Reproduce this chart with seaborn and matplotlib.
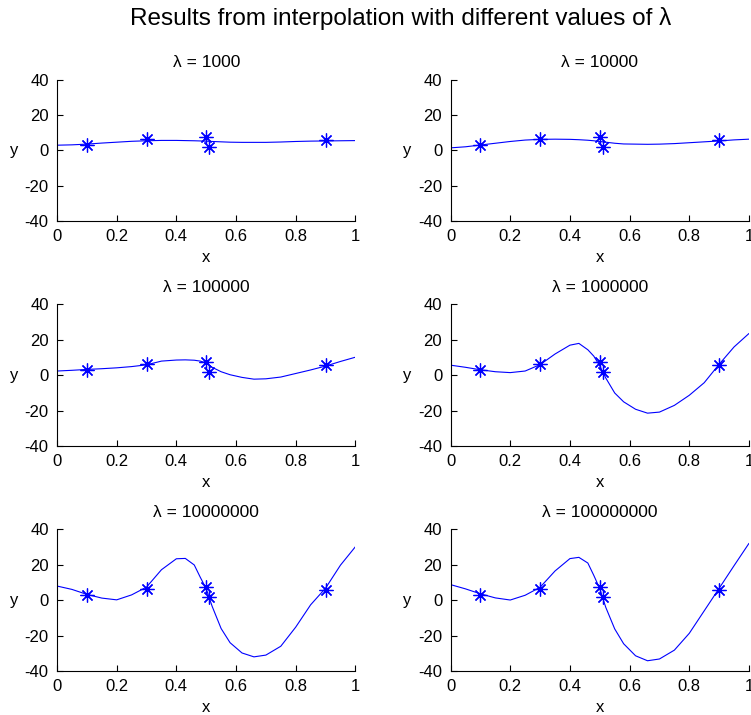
"""Smoothing-spline interpolation results for six values of lambda, redrawn
as a 3x2 grid of MATLAB-style panels."""

import matplotlib

matplotlib.use("Agg")
import matplotlib.pyplot as plt
import seaborn as sns

# Panel titles, in reading order (row by row).
LAMBDAS = ["1000", "10000", "100000", "1000000", "10000000", "100000000"]

CURVE_X = [0.0, 0.05, 0.1, 0.15, 0.2, 0.25, 0.3, 0.35, 0.4, 0.43, 0.46, 0.48,
           0.5, 0.52, 0.55, 0.58, 0.62, 0.66, 0.7, 0.75, 0.8, 0.85, 0.9, 0.95, 1.0]

CURVE_1E3 = [2.9, 3.1, 3.5, 4.1, 4.6, 5.1, 5.4, 5.6, 5.6, 5.5, 5.4, 5.3,
             5.2, 5.0, 4.8, 4.6, 4.5, 4.5, 4.5, 4.7, 5.0, 5.2, 5.3, 5.4, 5.5]
CURVE_1E4 = [1.4, 2.0, 3.0, 4.0, 5.0, 5.8, 6.2, 6.3, 6.2, 6.0, 5.7, 5.4,
             5.0, 4.6, 4.0, 3.6, 3.5, 3.4, 3.5, 3.8, 4.3, 4.8, 5.3, 5.9, 6.3]
CURVE_1E5 = [2.4, 2.8, 3.3, 3.7, 4.2, 4.9, 5.9, 8.0, 8.6, 8.7, 8.5, 8.0,
             7.0, 4.5, 2.0, 0.3, -1.2, -2.2, -2.0, -1.0, 1.0, 3.0, 5.2, 7.8, 10.2]
CURVE_1E6 = [5.7, 4.5, 3.1, 2.0, 1.5, 2.4, 6.0, 12.0, 17.0, 18.0, 14.4, 10.8,
             5.3, -1.5, -10.0, -15.0, -19.2, -21.4, -20.8, -17.0, -11.3, -4.2, 6.2, 16.0, 23.6]
CURVE_1E7 = [8.0, 6.1, 3.3, 1.2, 0.2, 3.0, 7.4, 17.2, 23.4, 23.6, 19.9, 13.0,
             6.5, -3.5, -16.0, -24.0, -29.8, -32.0, -31.0, -26.0, -15.2, -2.6, 6.8, 19.8, 30.2]
CURVE_1E8 = [8.8, 6.4, 3.6, 1.3, 0.1, 2.8, 7.3, 16.5, 23.5, 24.2, 21.0, 14.0,
             6.5, -4.0, -16.2, -24.6, -31.4, -34.2, -33.2, -28.2, -18.7, -6.0, 6.7, 19.5, 32.1]

CURVES = [CURVE_1E3, CURVE_1E4, CURVE_1E5, CURVE_1E6, CURVE_1E7, CURVE_1E8]

# The observed data points (same in every panel).
POINT_X = [0.1, 0.3, 0.5, 0.51, 0.9]
POINT_Y = [3.2, 6.3, 7.6, 2.0, 5.6]

X_TICKS = [0, 0.2, 0.4, 0.6, 0.8, 1]
X_TICK_LABELS = ["0", "0.2", "0.4", "0.6", "0.8", "1"]
Y_TICKS = [-40, -20, 0, 20, 40]
Y_TICK_LABELS = ["-40", "-20", "0", "20", "40"]

sns.set_style("ticks")
plt.rcParams["font.family"] = ["Liberation Sans", "DejaVu Sans"]
plt.rcParams["text.color"] = "black"
plt.rcParams["axes.labelcolor"] = "black"

fig, axes = plt.subplots(3, 2, figsize=(7.51, 7.15), dpi=100)
fig.subplots_adjust(left=0.0759, right=0.9973, bottom=0.0615, top=0.8888,
                    wspace=0.319, hspace=0.588)

for ax, lam, curve in zip(axes.flat, LAMBDAS, CURVES):
    sns.lineplot(x=CURVE_X, y=curve, ax=ax, color="blue", linewidth=0.8,
                 sort=False, estimator=None)
    ax.plot(POINT_X, POINT_Y, linestyle="none", marker=(8, 2, 0),
            markersize=10, markeredgewidth=0.9, color="blue")

    ax.set_xlim(0, 1)
    ax.set_ylim(-40, 40)
    ax.set_xticks(X_TICKS, X_TICK_LABELS)
    ax.set_yticks(Y_TICKS, Y_TICK_LABELS)
    ax.tick_params(direction="in", length=4, width=0.8, labelsize=12, pad=6,
                   colors="black")
    for side in ("left", "bottom"):
        ax.spines[side].set_linewidth(0.8)
        ax.spines[side].set_color("black")
    sns.despine(ax=ax)

    ax.set_title(f"λ = {lam}", fontsize=12.5, pad=9, color="black")
    ax.set_xlabel("x", fontsize=12, va="center")
    ax.set_ylabel("y", fontsize=12, rotation=0, va="center", ha="center")
    ax.xaxis.set_label_coords(0.5, -0.26)
    ax.yaxis.set_label_coords(-0.144, 0.5)

fig.suptitle("Results from interpolation with different values of λ",
             fontsize=17.5, x=0.534, y=0.974, va="center", color="black")
fig.savefig("out.png", dpi=100)
plt.close(fig)
